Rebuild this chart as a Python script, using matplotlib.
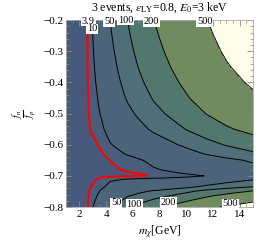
import numpy as np
import matplotlib
matplotlib.use("Agg")
import matplotlib.pyplot as plt
from matplotlib.ticker import MultipleLocator

plt.rcParams['font.family'] = ['Liberation Serif', 'DejaVu Serif']
plt.rcParams['mathtext.fontset'] = 'stix'

# mass dependence of the plotted quantity (read along the top edge)
mass = [1.0, 1.5, 2.0, 2.3, 2.5, 2.6, 2.7, 2.85, 3.0, 3.25, 3.5, 3.9, 4.3, 5.0, 5.6, 6.5, 7.6, 9.0, 10.3, 11.6, 13.0, 15.0]
g_mass = [0.05, 0.2, 0.8, 1.6, 2.6, 3.9, 6.0, 8.5, 10.5, 14.5, 20.0, 32.0, 50.0, 73.0, 100.0, 140.0, 200.0, 280.0, 380.0, 500.0, 640.0, 850.0]

# fn/fp dependence (relative to fn/fp = -0.2)
ratio = [-0.80, -0.785, -0.765, -0.748, -0.735, -0.725, -0.713, -0.708, -0.703, -0.700, -0.697,
         -0.69, -0.68, -0.67, -0.65, -0.63, -0.60, -0.55, -0.50, -0.45, -0.40,
         -0.35, -0.30, -0.25, -0.20]
h_ratio = [0.85, 0.60, 0.38, 0.235, 0.118, 0.085, 0.059, 0.040, 0.026, 0.021, 0.024,
           0.033, 0.045, 0.052, 0.065, 0.105, 0.163, 0.288, 0.413, 0.532, 0.642,
           0.744, 0.837, 0.922, 1.0]

# how strongly the fn/fp dependence acts near threshold (above / below the dip)
p_mass_up = [1.0, 2.6, 2.8, 3.0, 3.3, 3.7, 4.2, 5.0, 6.0, 15.0]
p_up = [0.3, 0.4, 0.55, 0.68, 0.8, 0.87, 0.92, 0.96, 1.0, 1.0]
p_mass_lo = [1.0, 2.6, 3.2, 5.0, 6.1, 8.0, 10.0, 15.0]
p_lo = [0.3, 0.35, 0.45, 0.7, 0.8, 0.95, 1.0, 1.0]

levels = [3.9, 10, 50, 100, 200, 500]
fill_colors = ['#47597b', '#4a5e7b', '#4c6479', '#4f6e77', '#52786e', '#6f8b5f', '#fdfde9']

top_labels = [(2.67, -0.203), (2.95, -0.228), (4.25, -0.206), (5.45, -0.200), (7.4, -0.206), (11.4, -0.206)]
bottom_labels = [(50, 4.75, -0.787), (100, 6.1, -0.792), (200, 8.65, -0.785), (500, 13.3, -0.790)]

m = np.linspace(1, 15, 500)
f = np.linspace(-0.8, -0.2, 900)
lg = np.interp(m, mass, np.log(g_mass))
lh = np.interp(f, ratio, np.log(h_ratio))
pu = np.interp(m, p_mass_up, p_up)
pl = np.interp(m, p_mass_lo, p_lo)
w = np.clip((-0.698 - f) / 0.006, 0, 1)[:, None]
p = pu[None, :] * (1 - w) + pl[None, :] * w
Z = np.exp(lg[None, :] + p * lh[:, None])

fig = plt.figure(figsize=(2.74, 2.45), dpi=100)
ax = fig.add_axes([0.241, 0.155, 0.682, 0.763])

ax.contourf(m, f, Z, levels=[0] + levels + [1e6], colors=fill_colors)
ax.contour(m, f, Z, levels=levels[1:], colors='black', linewidths=0.7)
ax.contour(m, f, Z, levels=levels[:1], colors='red', linewidths=1.5)

box = dict(facecolor='white', edgecolor='none', pad=0.5)
for lev, (x, y) in zip(levels, top_labels):
    ax.text(x, y, f"{lev:g}", fontsize=7.5, ha='center', va='center', bbox=box, clip_on=False)
for lev, x, y in bottom_labels:
    ax.text(x, y, f"{lev:g}", fontsize=7.5, ha='center', va='center', bbox=box)

ax.set_xlim(1, 15)
ax.set_ylim(-0.8, -0.2)
ax.xaxis.set_major_locator(MultipleLocator(2))
ax.xaxis.set_minor_locator(MultipleLocator(0.5))
ax.yaxis.set_major_locator(MultipleLocator(0.1))
ax.yaxis.set_minor_locator(MultipleLocator(0.02))
ax.tick_params(which='both', direction='in', top=True, right=True, color='#888888', labelsize=8, pad=2)
ax.tick_params(which='major', length=4, width=0.6)
ax.tick_params(which='minor', length=2, width=0.5)
for s in ax.spines.values():
    s.set_color('#aaaaaa')
    s.set_linewidth(0.6)

ax.set_title(r"3 events, $\epsilon_{\rm LY}$=0.8, $E_0$=3 keV", fontsize=8.5, pad=7)
ax.set_xlabel(r"$m_\chi$[GeV]", fontsize=8.5, labelpad=4)
ax.set_ylabel(r"$\frac{f_n}{f_p}$", fontsize=10, labelpad=3)

fig.savefig("out.png", dpi=100)
